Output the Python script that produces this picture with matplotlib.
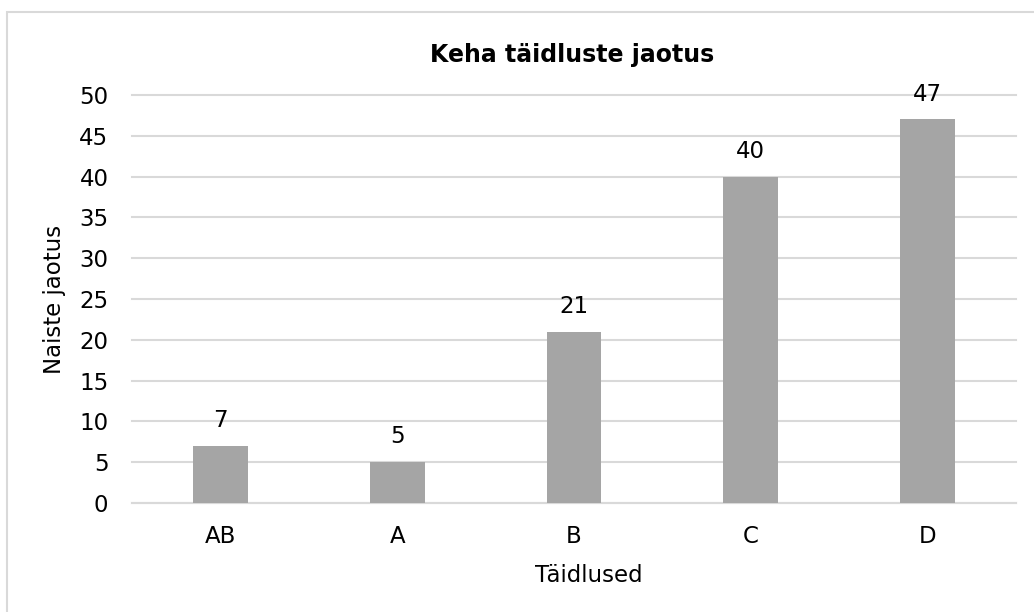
import numpy as np
import matplotlib
matplotlib.use("Agg")
import matplotlib.pyplot as plt
from matplotlib.patches import Rectangle

# andmed
kategooriad = ["AB", "A", "B", "C", "D"]
vaartused = [7, 5, 21, 40, 47]
y_ticks = [0, 5, 10, 15, 20, 25, 30, 35, 40, 45, 50]

W, H = 1034, 612
fig = plt.figure(figsize=(W / 100, H / 100), dpi=100)
plt.rcParams['font.family'] = ['DejaVu Sans']

# diagrammi ala (px -> suhteline)
x0, x1 = 132, 1016
y0, y1 = 503, 95
ax = fig.add_axes([x0 / W, 1 - y0 / H, (x1 - x0) / W, (y0 - y1) / H])

x = np.arange(len(kategooriad))
ax.bar(x, vaartused, width=0.31, color="#a5a5a5", zorder=3)

for xi, v in zip(x, vaartused):
    ax.annotate(str(v), (xi, v), xytext=(0, 10), textcoords="offset points",
                ha="center", va="bottom", fontsize=16.5, color="#000000")

ax.set_xlim(-0.5, len(kategooriad) - 0.5)
ax.set_ylim(0, 50)
ax.set_yticks(y_ticks)
ax.set_xticks(x)
ax.set_xticklabels(kategooriad)
ax.tick_params(axis="both", length=0, labelsize=16.5, colors="#000000")
ax.tick_params(axis="y", pad=17)
ax.tick_params(axis="x", pad=16)
ax.yaxis.grid(True, color="#d9d9d9", linewidth=1.5, zorder=0)
for gl in ax.get_ygridlines():
    gl.set_clip_on(False)
for s in ["top", "right", "left"]:
    ax.spines[s].set_visible(False)
ax.spines["bottom"].set_color("#d9d9d9")
ax.spines["bottom"].set_linewidth(1.5)

fig.text(572 / W, 1 - 55 / H, "Keha täidluste jaotus", ha="center", va="center",
         fontsize=17, fontweight="bold")
fig.text(589 / W, 1 - 575 / H, "Täidlused", ha="center", va="center", fontsize=16.5)
fig.text(55 / W, 1 - 299 / H, "Naiste jaotus", ha="center", va="center",
         rotation=90, fontsize=16.5)

# raam ümber diagrammi
fig.patches.append(Rectangle((7 / W, -0.1), 1.2, 1 - 12 / H + 0.1,
                             transform=fig.transFigure, fill=False,
                             edgecolor="#d9d9d9", linewidth=1.5))

fig.savefig("out.png", dpi=100)
